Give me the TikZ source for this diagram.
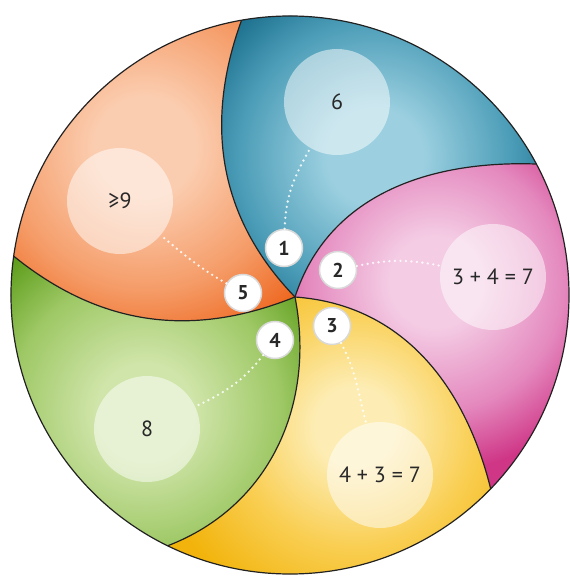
\documentclass[tikz,border=0pt]{standalone}
\usepackage{fontspec}
\setmainfont{PT Sans}
\definecolor{bluel}{HTML}{9CD0E0}
\definecolor{bluem}{HTML}{4C9DB8}
\definecolor{blued}{HTML}{156A87}
\definecolor{orangel}{HTML}{FBCDB0}
\definecolor{orangem}{HTML}{F59C68}
\definecolor{oranged}{HTML}{EE6820}
\definecolor{greenl}{HTML}{D0E5AA}
\definecolor{greenm}{HTML}{9EC865}
\definecolor{greend}{HTML}{5E9E1C}
\definecolor{yellowl}{HTML}{FDEDB4}
\definecolor{yellowm}{HTML}{F9CE52}
\definecolor{yellowd}{HTML}{F2B40C}
\definecolor{pinkl}{HTML}{F4CCE4}
\definecolor{pinkm}{HTML}{E488BE}
\definecolor{pinkd}{HTML}{CF3686}
\definecolor{textc}{HTML}{282828}
\definecolor{edgec}{HTML}{222222}
\pgfdeclareradialshading{glowblue}{\pgfpoint{0bp}{0bp}}{color(0bp)=(bluel); color(6bp)=(bluel); color(17bp)=(bluem); color(25bp)=(blued); color(50bp)=(blued)}
\pgfdeclareradialshading{gloworange}{\pgfpoint{0bp}{0bp}}{color(0bp)=(orangel); color(6bp)=(orangel); color(17bp)=(orangem); color(25bp)=(oranged); color(50bp)=(oranged)}
\pgfdeclareradialshading{glowgreen}{\pgfpoint{0bp}{0bp}}{color(0bp)=(greenl); color(6bp)=(greenl); color(17bp)=(greenm); color(25bp)=(greend); color(50bp)=(greend)}
\pgfdeclareradialshading{glowyellow}{\pgfpoint{0bp}{0bp}}{color(0bp)=(yellowl); color(5bp)=(yellowl); color(15bp)=(yellowm); color(25bp)=(yellowd); color(50bp)=(yellowd)}
\pgfdeclareradialshading{glowpink}{\pgfpoint{0bp}{0bp}}{color(0bp)=(pinkl); color(6bp)=(pinkl); color(17bp)=(pinkm); color(25bp)=(pinkd); color(50bp)=(pinkd)}
\tikzset{
  edgeline/.style={draw=edgec, line width=1.2pt},
  bigc/.style={circle, minimum size=106pt, inner sep=0pt, fill=white, fill opacity=0.5, text opacity=1, text=textc, font=\fontsize{22}{26}\selectfont},
  smallc/.style={circle, minimum size=37pt, inner sep=0pt, fill=white, draw=white!85!black, line width=1.5pt, text=textc, font=\bfseries\fontsize{20}{22}\selectfont},
  dotline/.style={draw=white, draw opacity=0.85, line width=2.6pt, line cap=round, dash pattern=on 0pt off 5.5pt}
}
\begin{document}
\begin{tikzpicture}[x=1pt,y=1pt]
\useasboundingbox (-295,-279) rectangle (275,297);
\coordinate (S) at (0,0);
\coordinate (O) at (-5,2);
\path (O) ++(28:279) coordinate (P0);
\path (O) ++(100:279) coordinate (P1);
\path (O) ++(172:279) coordinate (P2);
\path (O) ++(244:279) coordinate (P3);
\path (O) ++(316:279) coordinate (P4);
\def\regblue{(S) to[out=72,in=178] (P0) arc[start angle=28,end angle=100,radius=279] to[out=250,in=134] (S) -- cycle}
\def\regorange{(S) to[out=134,in=250] (P1) arc[start angle=100,end angle=172,radius=279] to[out=321,in=202] (S) -- cycle}
\def\reggreen{(S) to[out=202,in=321] (P2) arc[start angle=172,end angle=244,radius=279] to[out=21,in=281] (S) -- cycle}
\def\regyellow{(S) to[out=281,in=21] (P3) arc[start angle=244,end angle=316,radius=279] to[out=104,in=356] (S) -- cycle}
\def\regpink{(S) to[out=356,in=104] (P4) arc[start angle=316,end angle=388,radius=279] to[out=178,in=72] (S) -- cycle}
\begin{scope}
  \clip \regblue;
  \fill[blued] (-300,-300) rectangle (300,300);
  \shade[shading=glowblue] (80,140) circle (200);
\end{scope}
\begin{scope}
  \clip \regorange;
  \fill[oranged] (-300,-300) rectangle (300,300);
  \shade[shading=gloworange] (-150,150) circle (210);
\end{scope}
\begin{scope}
  \clip \reggreen;
  \fill[greend] (-300,-300) rectangle (300,300);
  \shade[shading=glowgreen] (-150,-115) circle (200);
\end{scope}
\begin{scope}
  \clip \regyellow;
  \fill[yellowd] (-300,-300) rectangle (300,300);
  \shade[shading=glowyellow] (60,-130) circle (200);
\end{scope}
\begin{scope}
  \clip \regpink;
  \fill[pinkd] (-300,-300) rectangle (300,300);
  \shade[shading=glowpink] (140,15) circle (190);
\end{scope}
\draw[edgeline] (O) circle (279);
\draw[edgeline] (S) to[out=72,in=178] (P0);
\draw[edgeline] (S) to[out=134,in=250] (P1);
\draw[edgeline] (S) to[out=202,in=321] (P2);
\draw[edgeline] (S) to[out=281,in=21] (P3);
\draw[edgeline] (S) to[out=356,in=104] (P4);
\node[bigc] (c6) at (42,195) {6};
\node[bigc] (c9) at (-175,96) {≥9};
\node[bigc] (c347) at (198,20) {3 + 4 = 7};
\node[bigc] (c437) at (85,-178) {4 + 3 = 7};
\node[bigc] (c8) at (-148,-132) {8};
\node[smallc] (n1) at (-11,49) {1};
\node[smallc] (n2) at (43,27) {2};
\node[smallc] (n3) at (37,-29) {3};
\node[smallc] (n4) at (-20,-43) {4};
\node[smallc] (n5) at (-52,4) {5};
\draw[dotline] (n1) to[out=88,in=240] (c6);
\draw[dotline] (n2) to[out=12,in=168] (c347);
\draw[dotline] (n3) to[out=-62,in=105] (c437);
\draw[dotline] (n4) to[out=232,in=25] (c8);
\draw[dotline] (n5) to[out=150,in=-40] (c9);
\end{tikzpicture}
\end{document}
